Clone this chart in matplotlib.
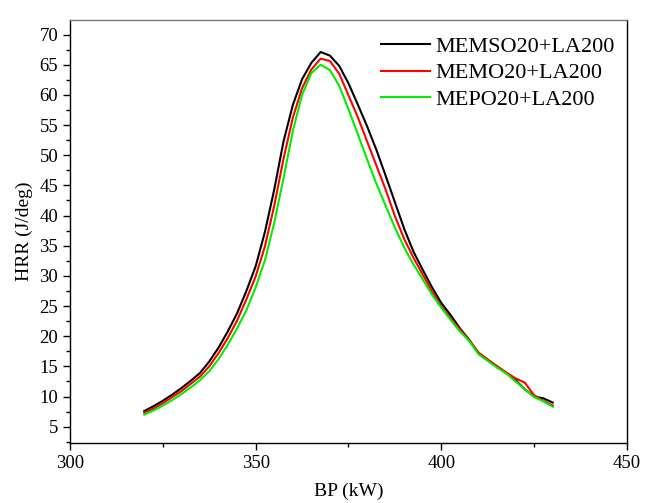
import matplotlib
matplotlib.use("Agg")
import matplotlib.pyplot as plt
from matplotlib.ticker import MultipleLocator

plt.rcParams['font.family'] = ['Liberation Serif', 'DejaVu Serif']

bp = [320, 322.5, 325, 327.5, 330, 332.5, 335, 337.5, 340, 342.5, 345, 347.5,
      350, 352.5, 355, 357.5, 360, 362.5, 365, 367.5, 370, 372.5, 375, 377.5,
      380, 382.5, 385, 387.5, 390, 392.5, 395, 397.5, 400, 402.5, 405, 407.5,
      410, 412.5, 415, 417.5, 420, 422.5, 425, 427.5, 430]

memso = [7.6, 8.4, 9.3, 10.3, 11.4, 12.6, 13.9, 15.8, 18.1, 20.8, 23.8, 27.5,
         31.6, 37.3, 44.3, 52.3, 58.3, 62.6, 65.3, 67.1, 66.5, 64.8, 61.9, 58.4,
         54.8, 50.9, 46.6, 42.2, 37.8, 34.0, 31.0, 28.1, 25.5, 23.5, 21.3, 19.4,
         17.2, 16.1, 15.0, 13.9, 12.7, 11.2, 10.0, 9.7, 9.0]

memo = [7.3, 8.0, 8.9, 9.9, 10.9, 12.1, 13.3, 15.0, 17.2, 19.7, 22.6, 26.1,
        29.9, 34.9, 41.6, 49.4, 56.2, 61.1, 64.2, 66.0, 65.6, 63.5, 59.9, 56.3,
        52.3, 48.3, 44.3, 39.9, 36.1, 33.0, 30.2, 27.4, 24.9, 23.0, 21.1, 19.3,
        17.3, 16.1, 15.0, 14.0, 13.0, 12.3, 10.2, 9.3, 8.5]

mepo = [7.0, 7.7, 8.5, 9.4, 10.4, 11.5, 12.7, 14.2, 16.2, 18.6, 21.3, 24.3,
        28.1, 32.6, 38.8, 46.2, 54.0, 60.0, 63.6, 65.0, 64.1, 61.5, 57.6, 53.5,
        49.3, 45.3, 41.6, 38.0, 34.7, 31.9, 29.4, 26.9, 24.7, 22.7, 20.8, 19.2,
        17.0, 15.9, 14.8, 13.8, 12.5, 11.2, 9.9, 9.2, 8.3]

labels = ["MEMSO20+LA200", "MEMO20+LA200", "MEPO20+LA200"]
colors = ["black", "#ff0000", "#00ee00"]

fig = plt.figure(figsize=(6.5, 5.03), dpi=100)
ax = fig.add_axes([0.1077, 0.1193, 0.8569, 0.8409])

for y, lab, c in zip([memso, memo, mepo], labels, colors):
    ax.plot(bp, y, color=c, lw=1.5, label=lab)

ax.set_xlim(300, 450)
ax.set_ylim(2.3, 72.4)
ax.xaxis.set_major_locator(MultipleLocator(50))
ax.xaxis.set_minor_locator(MultipleLocator(25))
ax.yaxis.set_minor_locator(MultipleLocator(2.5))
ax.set_yticks(range(5, 71, 5))

ax.tick_params(which='both', direction='out', top=False, right=False,
               labelsize=13.5, width=1)
ax.tick_params(which='major', length=5)
ax.tick_params(which='minor', length=3)
for s in ax.spines.values():
    s.set_linewidth(1.0)
ax.spines['top'].set_color('#777777')

ax.set_xlabel("BP (kW)", fontsize=14, labelpad=8)
ax.set_ylabel("HRR (J/deg)", fontsize=14, labelpad=5)

ax.legend(loc='upper left', bbox_to_anchor=(0.558, 0.962), frameon=False,
          fontsize=16, handlelength=2.2, handletextpad=0.25, labelspacing=0.28,
          borderpad=0, borderaxespad=0)

fig.savefig("out.png", dpi=100)
